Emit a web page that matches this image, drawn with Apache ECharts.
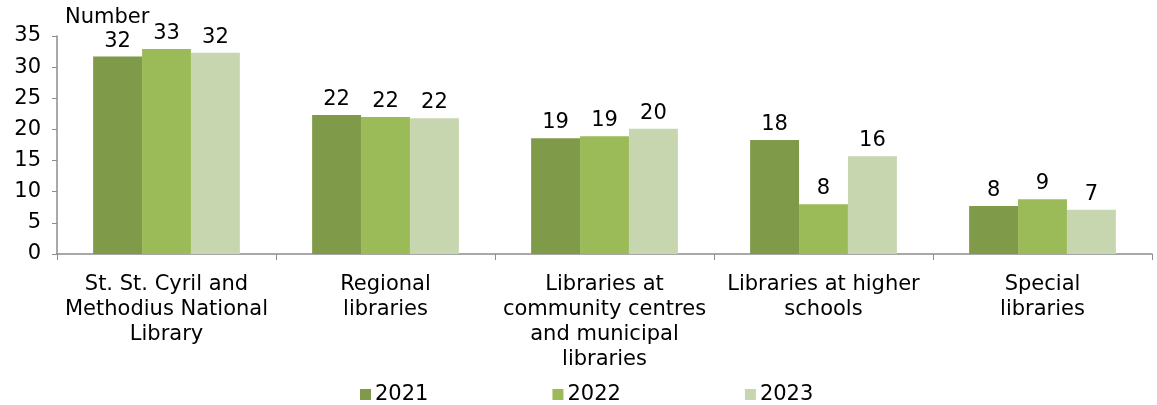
<!DOCTYPE html>
<html><head><meta charset="utf-8">
<script src="https://cdn.jsdelivr.net/npm/echarts@6/dist/echarts.min.js"></script>
<style>html,body{margin:0;padding:0;background:#fff}#c{width:1157px;height:405px}</style>
</head><body><div id="c"></div>
<script>
const categories = [
  "St. St. Cyril and\nMethodius National\nLibrary",
  "Regional\nlibraries",
  "Libraries at\ncommunity centres\nand municipal\nlibraries",
  "Libraries at higher\nschools",
  "Special\nlibraries"
];
const seriesNames = ["2021", "2022", "2023"];
const values2021 = [31.7, 22.3, 18.6, 18.3, 7.7];
const values2022 = [32.9, 22.0, 18.9, 8.0, 8.8];
const values2023 = [32.3, 21.8, 20.1, 15.7, 7.1];
const yTicks = [0, 5, 10, 15, 20, 25, 30, 35];
const colors = ["#7f9a48", "#9bbb59", "#c7d6ae"];

const font = "DejaVu Sans, Verdana, sans-serif";
const fs = 21;
const chart = echarts.init(document.getElementById('c'));
const allVals = [values2021, values2022, values2023];
chart.setOption({
  animation: false,
  textStyle: { fontFamily: font },
  grid: { left: 57, right: 5, top: 36, bottom: 151 },
  legend: {
    data: seriesNames, bottom: -5, left: 355,
    itemWidth: 11, itemHeight: 11, itemGap: 124, icon: 'rect',
    textStyle: { fontSize: fs, color: '#000', fontFamily: font, padding: [0, 0, 0, -1] }
  },
  xAxis: {
    type: 'category', data: categories,
    axisLine: { lineStyle: { color: '#8c8c8c', width: 1.5 } },
    axisTick: { show: true, length: 6, lineStyle: { color: '#8c8c8c' } },
    axisLabel: { fontSize: fs, color: '#000', lineHeight: 25, margin: 18, interval: 0, fontFamily: font }
  },
  yAxis: {
    type: 'value', min: yTicks[0], max: yTicks[yTicks.length - 1], interval: 5,
    name: 'Number', nameLocation: 'end', nameGap: 8,
    nameTextStyle: { fontSize: fs, color: '#000', align: 'left', padding: [0, 0, 0, 8], fontFamily: font },
    axisLine: { show: true, lineStyle: { color: '#8c8c8c', width: 1.5 } },
    axisTick: { show: true, length: 5, lineStyle: { color: '#8c8c8c' } },
    splitLine: { show: false },
    axisLabel: { fontSize: fs, color: '#000', margin: 16, fontFamily: font }
  },
  series: seriesNames.map((n, i) => ({
    name: n, type: 'bar', data: allVals[i],
    barGap: '0%', barCategoryGap: '33%',
    itemStyle: { color: colors[i] },
    label: { show: true, position: 'top', distance: 5, fontSize: fs, color: '#000', fontFamily: font,
      formatter: p => Math.round(p.value) }
  }))
});
</script></body></html>
